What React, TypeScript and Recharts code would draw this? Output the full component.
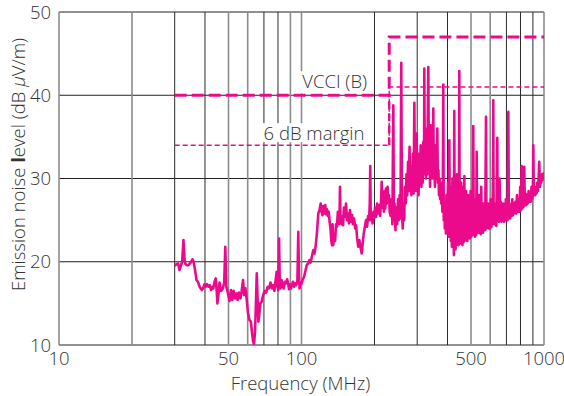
import React from 'react';
import {
  LineChart,
  Line,
  XAxis,
  YAxis,
  CartesianGrid,
  ReferenceLine,
  ReferenceDot,
} from 'recharts';

// Measured radiated emission, [frequency MHz, level dBμV/m]
const emissionTrace: [number, number][] = [
  [30, 19.5], [30.5, 19.7], [31, 19.8], [31.4, 19.0], [31.8, 19.5], [32.2, 20.0], [32.6, 22.6], [32.9, 20.5],
  [33.1, 19.8], [33.6, 19.6], [34.2, 19.6], [34.9, 19.9], [35.5, 20.3], [35.9, 20.0], [36.4, 19.0], [36.9, 17.8],
  [37.4, 17.6], [38.0, 17.0], [38.8, 16.6], [39.3, 16.8], [39.8, 17.3], [40.3, 17.0], [40.8, 17.3], [41.3, 17.0],
  [41.8, 17.2], [42.4, 16.6], [42.9, 17.0], [43.3, 16.8], [43.8, 17.6], [44.3, 18.0], [44.7, 16.5], [45.0, 15.0],
  [45.4, 16.0], [45.9, 17.5], [46.6, 16.5], [47.4, 16.8], [48.0, 17.5], [48.5, 21.8], [49.0, 17.0], [49.4, 16.6],
  [49.9, 16.0], [50.5, 15.3], [51.2, 16.6], [51.8, 15.4], [52.5, 16.5], [53.2, 15.6], [53.9, 16.2], [54.5, 15.4],
  [55.2, 16.3], [56.0, 15.6], [56.6, 16.4], [57.4, 17.8], [58.0, 16.0], [58.7, 16.8], [59.4, 15.5], [60.2, 13.8],
  [61.0, 13.0], [61.8, 12.8], [62.5, 11.5], [63.1, 10.5], [63.7, 10.1], [64.3, 11.5], [64.8, 14.5], [65.4, 18.6],
  [66.0, 15.0], [66.4, 12.8], [66.9, 13.5], [67.6, 15.0], [68.5, 15.2], [69.5, 16.0], [70.5, 16.5], [71.5, 16.3],
  [72.5, 17.0], [73.5, 16.8], [74.5, 17.5], [75.6, 16.8], [76.5, 17.2], [77.3, 16.5], [78.2, 17.8], [79.0, 18.8],
  [79.6, 17.0], [80.2, 16.6], [80.8, 22.8], [81.4, 17.0], [82.0, 16.8], [82.8, 17.8], [83.6, 17.2], [84.4, 16.8],
  [85.4, 17.6], [86.3, 17.4], [87.2, 17.9], [88.0, 17.5], [88.8, 16.7], [89.6, 17.3], [90.5, 16.8], [91.4, 17.2],
  [92.2, 17.6], [93.2, 17.0], [94.2, 17.4], [95.2, 17.2], [96.2, 17.8], [97.0, 23.6], [97.6, 18.5], [98.2, 16.8],
  [98.8, 17.5], [99.8, 17.3], [101.0, 17.8], [102.5, 18.2], [104.0, 19.0], [105.1, 19.6], [106.5, 19.8], [107.8, 20.2],
  [109.0, 19.9], [110.3, 20.6], [111.9, 21.4], [113.2, 21.0], [114.5, 22.0], [115.8, 23.5], [117.3, 25.8], [118.6, 26.2],
  [120.0, 27.0], [121.0, 26.0], [122.0, 25.6], [123.0, 26.7], [124.2, 25.8], [125.3, 26.8], [126.4, 25.7], [127.4, 26.3],
  [128.5, 25.5], [129.5, 26.0], [130.6, 24.8], [131.7, 24.0], [132.6, 22.6], [133.5, 22.0], [134.4, 24.5], [135.2, 22.0],
  [136.4, 23.0], [137.6, 22.5], [138.8, 24.5], [140.0, 24.2], [141.2, 26.0], [142.4, 24.5], [143.4, 25.0], [144.1, 29.0],
  [144.8, 25.0], [146.0, 24.5], [147.2, 25.5], [148.4, 24.4], [149.6, 26.5], [151.1, 25.4], [152.6, 27.0], [154.0, 25.0],
  [155.4, 25.8], [156.8, 24.6], [158.5, 26.2], [160.0, 24.8], [161.6, 25.6], [163.2, 24.5], [164.8, 25.2], [166.4, 24.0],
  [168.0, 24.4], [169.6, 22.8], [171.5, 21.8], [173.2, 22.6], [175.0, 21.8], [177.1, 21.0], [179.0, 22.4], [180.8, 23.5],
  [182.8, 24.3], [184.5, 25.0], [186.4, 24.2], [188.2, 25.5], [190.0, 25.0], [191.2, 27.0], [192.1, 31.5], [193.0, 25.0],
  [194.6, 25.8], [196.3, 24.6], [198.0, 26.0], [199.5, 25.2], [201.0, 26.5], [203.0, 25.4], [205.0, 27.0], [207.0, 25.8],
  [209.0, 26.8], [211.0, 25.5], [213.0, 27.5], [214.1, 29.6], [215.5, 26.5], [217.0, 27.8], [218.6, 26.0], [220.0, 28.5],
  [221.6, 26.4], [223.2, 28.8], [224.8, 27.0], [226.5, 29.0], [228.0, 27.2], [229.6, 28.0], [231.0, 26.0], [233.0, 25.5],
  [235, 27.5], [237, 24.5], [239.1, 38.8], [240.5, 25.0], [242, 27.0], [244, 23.8], [246, 26.5], [248, 24.5],
  [250, 27.5], [252, 25.0], [254, 28.0], [256, 25.2], [257.9, 43.9], [259.5, 26.0], [261.5, 24.0], [263, 27.0],
  [265, 25.0], [267, 29.0], [269, 27.0], [271, 30.5], [273, 28.0], [275, 32.0], [277, 28.5], [279, 33.8],
  [280.3, 29.0], [282, 31.5], [284, 28.0], [286, 30.0], [288, 33.0], [290, 28.2], [292, 39.1], [293.5, 30.0],
  [295, 32.0], [297, 28.5], [298.6, 35.4], [300, 29.0], [302, 31.0], [304, 28.0], [306, 33.0], [308, 29.5],
  [310, 34.0], [312, 29.0], [314, 31.0], [316, 29.5], [318, 34.4], [320, 30.5], [321, 43.2], [322.5, 31.0],
  [324, 34.0], [326, 30.0], [328, 36.0], [330, 30.5], [333.4, 43.4], [335, 31.0], [337, 35.0], [339, 29.0],
  [341, 36.4], [343, 31.0], [345, 33.5], [347, 30.0], [349.6, 38.4], [351, 30.5], [353, 32.5], [355, 29.0],
  [357, 34.0], [359, 30.0], [361, 33.0], [363.1, 36.0], [365, 29.5], [367, 31.0], [369, 28.0], [371, 30.0],
  [373, 27.5], [375, 29.5], [377, 27.0], [379, 28.5], [381, 26.0], [382.5, 27.5], [384.4, 41.3], [386, 25.0],
  [388, 26.5], [390, 24.0], [392, 25.5], [394, 23.4], [396, 28.0], [399, 24.0], [402, 29.5], [404, 23.0],
  [407, 34.6], [409, 24.0], [411, 29.0], [413, 22.5], [415, 28.0], [417, 21.8], [419, 30.0], [421, 22.0],
  [423, 27.0], [425, 20.8], [426.6, 38.1], [428, 22.5], [430, 29.0], [432, 21.5], [434, 28.5], [436, 22.0],
  [438, 30.5], [440, 22.5], [442, 28.5], [444, 22.0], [446, 29.0], [447.4, 42.9], [449, 23.0], [451, 28.5],
  [453, 22.2], [455, 29.5], [457, 22.5], [459, 28.0], [461, 22.0], [463, 29.0], [465, 22.3], [467, 27.5],
  [469.3, 30.3], [471, 22.5], [473, 28.0], [475, 22.6], [477, 28.5], [479, 23.0], [481, 27.0], [483, 22.5],
  [486, 28.0], [489, 23.0], [492, 27.0], [495, 22.8], [498, 28.5], [501, 23.0], [504, 26.8], [507, 23.2],
  [511, 36.3], [513, 24.0], [516, 27.0], [519, 23.0], [522, 27.5], [525, 23.2], [527.8, 33.2], [530, 23.5],
  [533, 26.5], [536, 23.5], [539, 28.0], [542, 23.6], [545, 26.0], [548, 23.3], [551, 29.0], [554, 23.8],
  [557, 26.0], [560, 23.5], [563, 27.0], [566, 24.0], [569, 26.5], [572, 23.8], [576.6, 37.4], [579, 24.0],
  [582, 26.5], [585, 24.2], [589, 27.0], [593, 24.0], [596, 26.8], [600, 24.0], [603, 27.5], [607, 24.2],
  [611, 26.5], [614, 24.5], [617.9, 39.4], [620, 24.6], [624, 27.0], [628, 24.5], [632, 26.5], [636, 24.3],
  [641.8, 34.9], [644, 25.0], [648, 27.0], [652, 24.8], [656, 30.0], [660, 25.0], [664, 27.2], [668, 24.8],
  [672, 26.5], [676, 25.0], [680, 27.0], [684, 24.8], [688, 26.8], [692, 25.0], [696, 27.5], [700, 25.2],
  [704, 27.0], [708, 25.0], [712.6, 38.0], [716, 25.5], [720, 27.0], [725, 25.2], [730, 26.6], [735, 25.5],
  [740, 27.5], [745, 25.6], [750, 27.0], [756, 25.8], [762, 27.2], [768, 25.8], [774, 28.0], [780, 26.0],
  [786, 27.5], [792, 26.0], [798, 29.0], [804, 26.2], [809, 31.5], [814, 26.4], [819, 28.0], [824, 26.6],
  [829, 31.4], [834, 26.8], [840, 28.2], [846, 26.8], [852, 28.0], [858, 27.0], [864, 28.5], [870, 27.2],
  [876, 28.0], [882, 27.2], [888, 29.0], [894, 27.5], [900, 28.5], [903.5, 34.0], [908, 28.0], [914, 28.8],
  [920, 28.0], [926, 29.0], [932, 28.2], [938, 29.5], [944, 28.5], [950, 30.0], [956, 32.0], [962, 29.0],
  [968, 30.0], [974, 29.5], [980, 30.5], [986, 29.8], [993, 30.6], [1000, 30.4],
];

// VCCI class B limit and the 6 dB design margin below it
const limitFreq = [30, 230, 230, 1000];
const vcciLimit = [40, 40, 47, 47];
const marginLimit = [34, 34, 41, 41];
// step of the margin line at the 230 MHz limit change
const stepFreq = [230, 230];
const stepLevel = [34, 40];

// Axis ticks
const xGridFreq = [10, 20, 30, 40, 50, 60, 70, 80, 90, 100, 200, 300, 400, 500, 600, 700, 800, 900, 1000];
const xGridLight = [10, 20, 50, 60, 90, 100, 500, 600, 1000];
const xTickLabels = [10, 50, 100, 500, 1000];
const yTicks = [10, 20, 30, 40, 50];

const MAGENTA = '#ec0a8c';
const TEXT = '#333333';
const FONT = "'Open Sans', 'Liberation Sans', Arial, sans-serif";
const FONT_SIZE = 18.5;
const FONT_WEIGHT = 300;

const traceData = emissionTrace.map(([f, v]) => ({ f, v }));
const vcciData = limitFreq.map((f, i) => ({ f, v: vcciLimit[i] }));
const marginData = limitFreq.map((f, i) => ({ f, v: marginLimit[i] }));
const stepData = stepFreq.map((f, i) => ({ f, v: stepLevel[i] }));

type BoxProps = {
  viewBox?: { x: number; y: number; width: number; height: number };
  text: string;
  left: number;
  right: number;
  top: number;
  bottom: number;
  baseline: number;
};

// Text with an opaque white box behind it, anchored to a reference point
const BoxedText = ({ viewBox, text, left, right, top, bottom, baseline }: BoxProps) => {
  if (!viewBox) return null;
  const cx = viewBox.x + viewBox.width / 2;
  const cy = viewBox.y + viewBox.height / 2;
  return (
    <g>
      <rect x={cx - left} y={cy - top} width={left + right} height={top - bottom} fill="#fff" />
      <text
        x={cx}
        y={cy - baseline}
        textAnchor="middle"
        fontFamily={FONT}
        fontWeight={FONT_WEIGHT}
        fontSize={FONT_SIZE}
        fill={TEXT}
      >
        {text}
      </text>
    </g>
  );
};

const YTitle = ({ viewBox }: any) => {
  if (!viewBox) return null;
  const x = viewBox.x + 17;
  const y = viewBox.y + viewBox.height / 2 - 14;
  return (
    <text
      x={x}
      y={y}
      transform={`rotate(-90, ${x}, ${y})`}
      textAnchor="middle"
      dominantBaseline="central"
      fontFamily={FONT}
      fontWeight={FONT_WEIGHT}
      fontSize={FONT_SIZE}
      fill={TEXT}
    >
      Emission noise <tspan fontWeight="bold">l</tspan>evel (dB <tspan fontStyle="italic">μ</tspan>V/m)
    </text>
  );
};

const XTitle = ({ viewBox }: any) => {
  if (!viewBox) return null;
  return (
    <text
      x={viewBox.x + viewBox.width / 2 - 1}
      y={viewBox.y + 44.5}
      textAnchor="middle"
      fontFamily={FONT}
      fontWeight={FONT_WEIGHT}
      fontSize={FONT_SIZE}
      fill={TEXT}
    >
      Frequency (MHz)
    </text>
  );
};

const tickStyle = { fontFamily: FONT, fontSize: FONT_SIZE, fontWeight: FONT_WEIGHT, fill: TEXT };

export default function App() {
  return (
    <div style={{ position: 'fixed', left: 0, top: 0, width: 564, height: 396, background: '#fff' }}>
      <LineChart width={564} height={396} margin={{ top: 12, right: 20, left: 0, bottom: 0 }} data={traceData}>
        <CartesianGrid vertical={false} stroke="#222" strokeWidth={1} />
        {xGridFreq.map((f) => (
          <ReferenceLine
            key={f}
            x={f}
            stroke={xGridLight.includes(f) ? '#8c8c8c' : '#2a2a2a'}
            strokeWidth={xGridLight.includes(f) ? 1.6 : 1}
            ifOverflow="visible"
          />
        ))}
        <XAxis
          dataKey="f"
          type="number"
          scale="log"
          domain={[10, 1000]}
          allowDataOverflow
          ticks={xGridFreq}
          tickFormatter={(f: number) => (xTickLabels.includes(f) ? String(f) : '')}
          interval={0}
          tickLine={false}
          axisLine={false}
          tickMargin={1}
          height={51}
          tick={tickStyle}
          label={<XTitle />}
        />
        <YAxis
          dataKey="v"
          type="number"
          domain={[10, 50]}
          allowDataOverflow
          ticks={yTicks}
          interval={0}
          tickLine={false}
          axisLine={false}
          width={59}
          tick={tickStyle}
          label={<YTitle />}
        />
        <ReferenceDot
          x={137}
          y={40}
          r={1}
          fill="none"
          stroke="none"
          ifOverflow="visible"
          label={<BoxedText text="VCCI (B)" left={40} right={38} top={24} bottom={2} baseline={7} />}
        />
        <ReferenceDot
          x={112.6}
          y={34}
          r={1}
          fill="none"
          stroke="none"
          ifOverflow="visible"
          label={<BoxedText text="6 dB margin" left={54} right={54} top={22} bottom={3} baseline={5} />}
        />
        <Line
          data={marginData}
          dataKey="v"
          stroke={MAGENTA}
          strokeWidth={1.4}
          strokeDasharray="5 3"
          dot={false}
          isAnimationActive={false}
          type="linear"
        />
        <Line
          data={stepData}
          dataKey="v"
          stroke={MAGENTA}
          strokeWidth={2.4}
          strokeDasharray="8 4"
          dot={false}
          isAnimationActive={false}
          type="linear"
        />
        <Line
          data={vcciData}
          dataKey="v"
          stroke={MAGENTA}
          strokeWidth={3}
          strokeDasharray="12 5"
          dot={false}
          isAnimationActive={false}
          type="linear"
        />
        <Line
          dataKey="v"
          stroke={MAGENTA}
          strokeWidth={2.6}
          strokeLinejoin="round"
          dot={false}
          isAnimationActive={false}
          type="linear"
        />
      </LineChart>
    </div>
  );
}
